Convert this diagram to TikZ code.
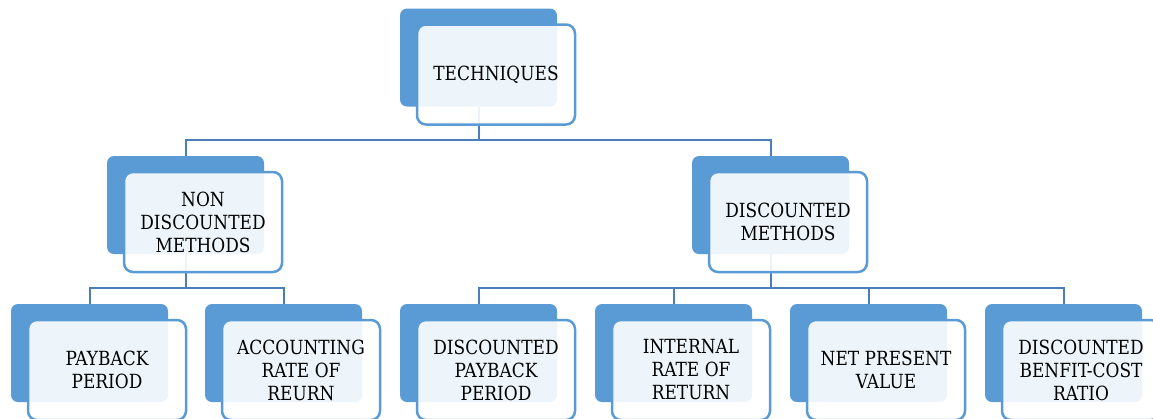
\documentclass[tikz,border=0pt]{standalone}
\usepackage{fontspec}
\setmainfont{DejaVu Serif}[FakeStretch=0.87]
\definecolor{accent}{HTML}{5B9BD5}
\definecolor{linkblue}{HTML}{4A7EBB}
\begin{document}
\begin{tikzpicture}[x=1pt,y=-1pt,
  backbox/.style={fill=accent, rounded corners=7pt, minimum width=157pt,
    minimum height=98pt, inner sep=0pt},
  frontbox/.style={draw=accent, line width=2.5pt, fill=white, fill opacity=0.9,
    text opacity=1, draw opacity=1, rounded corners=9pt, minimum width=158pt,
    minimum height=100pt, inner sep=0pt, align=center,
    font=\fontsize{19.5}{23}\selectfont},
  link/.style={draw=linkblue, line width=2pt}]
\useasboundingbox (0,0) rectangle (1153,418);
\clip (0,0) rectangle (1153,418);

% back plates
\node[backbox] (t)  at (478.5,57.5) {};
\node[backbox] (n)  at (185.5,205) {};
\node[backbox] (d)  at (770.5,205) {};
\node[backbox] (p1) at (89.5,353) {};
\node[backbox] (p2) at (283.5,353) {};
\node[backbox] (p3) at (478.5,353) {};
\node[backbox] (p4) at (673.5,353) {};
\node[backbox] (p5) at (868.5,353) {};
\node[backbox] (p6) at (1063.5,353) {};

% connectors
\draw[link] (t.south) -- ++(0,33) -| (n.north);
\draw[link] (t.south) -- ++(0,33) -| (d.north);
\foreach \c in {p1,p2}
  \draw[link] (n.south) -- ++(0,34) -| (\c.north);
\foreach \c in {p3,p4,p5,p6}
  \draw[link] (d.south) -- ++(0,34) -| (\c.north);

% front cards with labels
\node[frontbox] (tf)  at ([shift={(17.5,17)}]t.center)  {TECHNIQUES};
\node[frontbox] (nf)  at ([shift={(17.5,17)}]n.center)  {NON\\DISCOUNTED\\METHODS};
\node[frontbox] (df)  at ([shift={(17.5,17)}]d.center)  {DISCOUNTED\\METHODS};
\node[frontbox] (p1f) at ([shift={(17.5,17)}]p1.center) {PAYBACK\\PERIOD};
\node[frontbox] (p2f) at ([shift={(17.5,17)}]p2.center) {ACCOUNTING\\RATE OF\\REURN};
\node[frontbox] (p3f) at ([shift={(17.5,17)}]p3.center) {DISCOUNTED\\PAYBACK\\PERIOD};
\node[frontbox] (p4f) at ([shift={(17.5,17)}]p4.center) {INTERNAL\\RATE OF\\RETURN};
\node[frontbox] (p5f) at ([shift={(17.5,17)}]p5.center) {NET PRESENT\\VALUE};
\node[frontbox] (p6f) at ([shift={(17.5,17)}]p6.center) {DISCOUNTED\\BENFIT-COST\\RATIO};
\end{tikzpicture}
\end{document}
